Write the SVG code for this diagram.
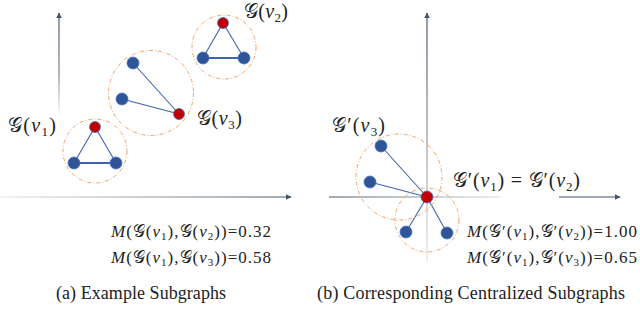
<svg xmlns="http://www.w3.org/2000/svg" width="640" height="309" viewBox="0 0 640 309">
<defs>
<style>
.ax{stroke:#44546A;stroke-width:1.2;fill:none}
.ring{fill:none;stroke:#F4A26B;stroke-width:1;stroke-dasharray:4 2 1 2}
.e{stroke:#3E64B0;stroke-width:1.1}
.e2{stroke:#3E64B0;stroke-width:2}
.b{fill:#2F5597;stroke:#4472C4;stroke-width:0.8}
.r{fill:#C00000;stroke:#4472C4;stroke-width:0.8}
.lab{font-family:"Liberation Serif","DejaVu Serif","DejaVu Sans",serif;font-size:20px;fill:#222}
.f{font-family:"Liberation Serif","DejaVu Serif","DejaVu Sans",serif;font-size:17px;fill:#222}
.cap{font-family:"Liberation Serif","DejaVu Serif",serif;font-size:18px;fill:#222}
.i{font-style:italic}
</style>
<marker id="ah" viewBox="0 0 10 10" refX="9" refY="5" markerWidth="6" markerHeight="6" orient="auto" markerUnits="userSpaceOnUse">
<path d="M0,0 L10,5 L0,10 z" fill="#44546A"/>
</marker>
<linearGradient id="gv" gradientUnits="userSpaceOnUse" x1="59" y1="115" x2="59" y2="13">
<stop offset="0" stop-color="#44546A" stop-opacity="0.05"/>
<stop offset="0.4" stop-color="#44546A" stop-opacity="0.7"/>
<stop offset="1" stop-color="#44546A" stop-opacity="1"/>
</linearGradient>
<linearGradient id="gh" gradientUnits="userSpaceOnUse" x1="0" y1="197" x2="291" y2="197">
<stop offset="0" stop-color="#44546A" stop-opacity="0.15"/>
<stop offset="1" stop-color="#44546A" stop-opacity="1"/>
</linearGradient>
<linearGradient id="gv2" gradientUnits="userSpaceOnUse" x1="427" y1="262" x2="427" y2="13">
<stop offset="0" stop-color="#44546A" stop-opacity="0.15"/>
<stop offset="0.5" stop-color="#44546A" stop-opacity="0.6"/>
<stop offset="1" stop-color="#44546A" stop-opacity="1"/>
</linearGradient>
<linearGradient id="gh2" gradientUnits="userSpaceOnUse" x1="329" y1="197" x2="500" y2="197">
<stop offset="0" stop-color="#44546A" stop-opacity="1"/>
<stop offset="1" stop-color="#44546A" stop-opacity="0.2"/>
</linearGradient>
</defs>
<rect width="640" height="309" fill="#fff"/>

<g id="axes-a">
<line x1="59" y1="115" x2="59" y2="13" stroke="url(#gv)" stroke-width="1.2" marker-end="url(#ah)"/>
<line x1="0" y1="197" x2="291" y2="197" stroke="url(#gh)" stroke-width="1.2" marker-end="url(#ah)"/>
</g>
<g id="axes-b">
<line x1="427" y1="262" x2="427" y2="13" stroke="url(#gv2)" stroke-width="1.2" marker-end="url(#ah)"/>
<line x1="329" y1="197" x2="500" y2="197" stroke="url(#gh2)" stroke-width="1.2"/>
<line x1="559" y1="197" x2="620" y2="197" class="ax" marker-end="url(#ah)"/>
</g>

<g id="connectors">
<line class="e" x1="95" y1="127" x2="74" y2="163"/>
<line class="e" x1="95" y1="127" x2="116" y2="163"/>
<line class="e2" x1="74" y1="163" x2="116" y2="163"/>
<line class="e" x1="133" y1="63" x2="179" y2="114"/>
<line class="e" x1="122" y1="99" x2="179" y2="114"/>
<line class="e" x1="223" y1="23" x2="203" y2="58"/>
<line class="e" x1="223" y1="23" x2="244" y2="58"/>
<line class="e2" x1="203" y1="58" x2="244" y2="58"/>
<line class="e" x1="381" y1="146" x2="427" y2="197"/>
<line class="e" x1="370" y1="182" x2="427" y2="197"/>
<line class="e" x1="406" y1="232" x2="427" y2="197"/>
<line class="e" x1="447" y1="233" x2="427" y2="197"/>
</g>

<g id="sub-v1">
<circle class="ring" cx="95" cy="151" r="32"/>
<circle class="r" cx="95" cy="127" r="5.5"/>
<circle class="b" cx="74" cy="163" r="6"/>
<circle class="b" cx="116" cy="163" r="6"/>
<text class="lab" x="8" y="132" textLength="48">𝒢(<tspan class="i">v</tspan><tspan font-size="13" dy="4">1</tspan><tspan dy="-4">)</tspan></text>
</g>
<g id="sub-v3">
<circle class="ring" cx="151" cy="93" r="42.5"/>
<circle class="b" cx="133" cy="63" r="6"/>
<circle class="b" cx="122" cy="99" r="6"/>
<circle class="r" cx="179" cy="114" r="5.5"/>
<text class="lab" x="197" y="125" textLength="45">𝒢(<tspan class="i">v</tspan><tspan font-size="13" dy="4">3</tspan><tspan dy="-4">)</tspan></text>
</g>
<g id="sub-v2">
<circle class="ring" cx="224" cy="47" r="32"/>
<circle class="r" cx="223" cy="23" r="5.5"/>
<circle class="b" cx="203" cy="58" r="6"/>
<circle class="b" cx="244" cy="58" r="6"/>
<text class="lab" x="244" y="18" textLength="44">𝒢(<tspan class="i">v</tspan><tspan font-size="13" dy="4">2</tspan><tspan dy="-4">)</tspan></text>
</g>

<g id="csub-v3">
<circle class="ring" cx="399" cy="177" r="43"/>
<circle class="b" cx="381" cy="146" r="6"/>
<circle class="b" cx="370" cy="182" r="6"/>
<text class="lab" x="332" y="132" textLength="53">𝒢′(<tspan class="i">v</tspan><tspan font-size="13" dy="4">3</tspan><tspan dy="-4">)</tspan></text>
</g>
<g id="csub-v1v2">
<circle class="ring" cx="427" cy="220" r="32"/>
<circle class="b" cx="406" cy="232" r="6"/>
<circle class="b" cx="447" cy="233" r="6"/>
<text class="lab" x="453" y="187" textLength="127">𝒢′(<tspan class="i">v</tspan><tspan font-size="13" dy="4">1</tspan><tspan dy="-4">) = 𝒢′(</tspan><tspan class="i">v</tspan><tspan font-size="13" dy="4">2</tspan><tspan dy="-4">)</tspan></text>
</g>
<g id="center">
<circle class="r" cx="427" cy="197" r="6"/>
</g>

<g id="formulas-a">
<text class="f" x="111" y="237" textLength="160"><tspan class="i">M</tspan>(𝒢(<tspan class="i">v</tspan><tspan font-size="11" dy="3">1</tspan><tspan dy="-3">),𝒢(</tspan><tspan class="i">v</tspan><tspan font-size="11" dy="3">2</tspan><tspan dy="-3">))=0.32</tspan></text>
<text class="f" x="111" y="263" textLength="160"><tspan class="i">M</tspan>(𝒢(<tspan class="i">v</tspan><tspan font-size="11" dy="3">1</tspan><tspan dy="-3">),𝒢(</tspan><tspan class="i">v</tspan><tspan font-size="11" dy="3">3</tspan><tspan dy="-3">))=0.58</tspan></text>
<text class="cap" x="56" y="299" textLength="170">(a) Example Subgraphs</text>
</g>
<g id="formulas-b">
<text class="f" x="467" y="237" textLength="170"><tspan class="i">M</tspan>(𝒢′(<tspan class="i">v</tspan><tspan font-size="11" dy="3">1</tspan><tspan dy="-3">),𝒢′(</tspan><tspan class="i">v</tspan><tspan font-size="11" dy="3">2</tspan><tspan dy="-3">))=1.00</tspan></text>
<text class="f" x="467" y="263" textLength="170"><tspan class="i">M</tspan>(𝒢′(<tspan class="i">v</tspan><tspan font-size="11" dy="3">1</tspan><tspan dy="-3">),𝒢′(</tspan><tspan class="i">v</tspan><tspan font-size="11" dy="3">3</tspan><tspan dy="-3">))=0.65</tspan></text>
<text class="cap" x="317" y="299" textLength="308">(b) Corresponding Centralized Subgraphs</text>
</g>
</svg>
